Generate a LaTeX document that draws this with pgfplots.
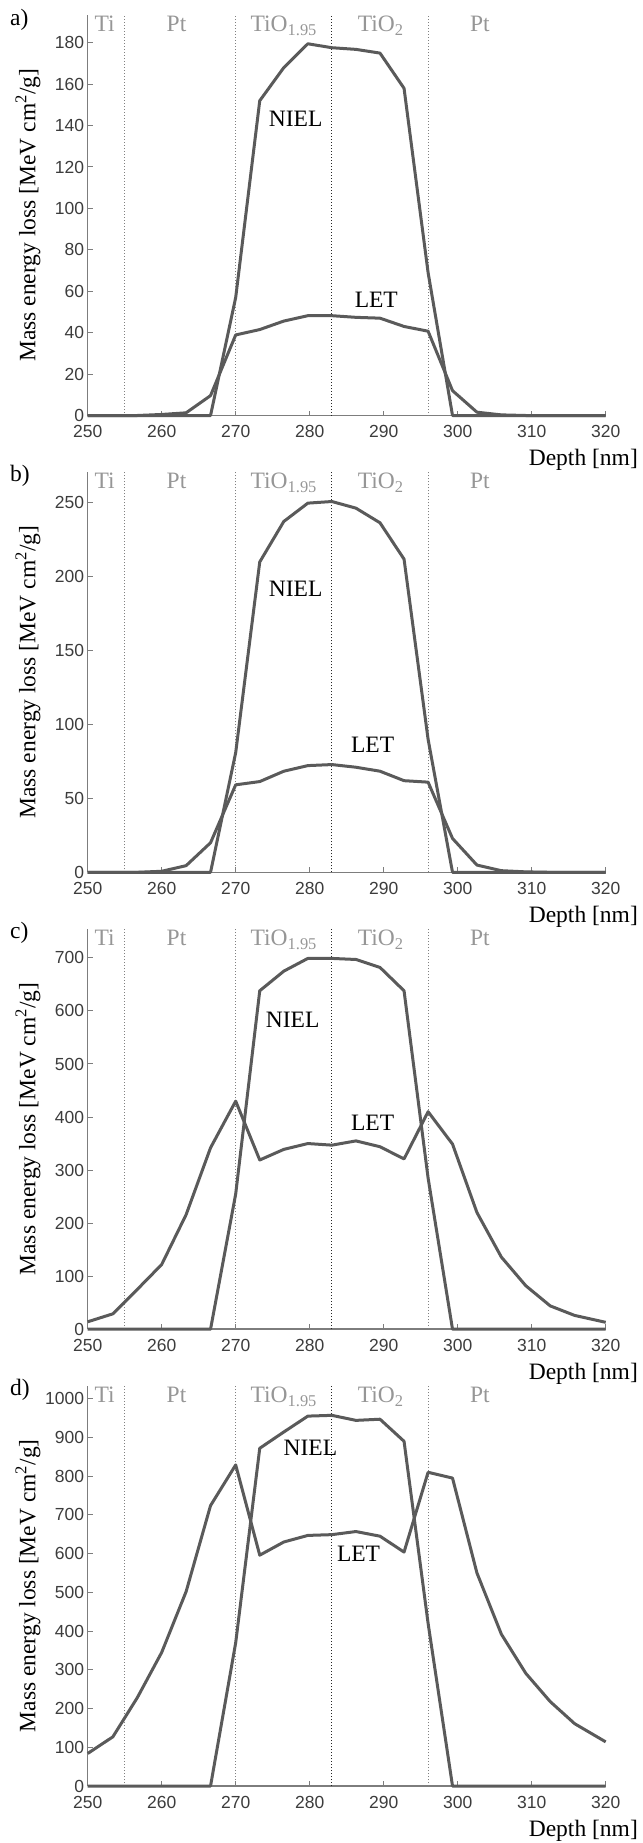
\documentclass[border=0pt]{standalone}
\usepackage{pgfplots}
\pgfplotsset{compat=1.18}
\usepackage{fontspec}
\setmainfont{Liberation Serif}
\newfontfamily\tickfont{Liberation Sans}
\definecolor{dataline}{RGB}{90,90,90}
\definecolor{axisgray}{RGB}{125,125,125}
\definecolor{ticktext}{RGB}{60,60,60}
\definecolor{layergray}{RGB}{150,150,150}
\newcommand{\lbl}{\fontsize{23.5}{28}\selectfont}

\tikzset{
  sepline/.style={line width=1pt, dash pattern=on 0.9pt off 2.1pt},
  layerlbl/.style={anchor=base, inner sep=0pt, text=layergray, font=\lbl},
  curvelbl/.style={anchor=center, inner sep=0pt, font=\lbl},
  curve/.style={draw=dataline, line width=3pt, line join=round, mark=none},
}

\pgfplotsset{
  panel/.style={
    scale only axis, width=518pt, height=400.5pt,
    xmin=250, xmax=320, ymin=0,
    clip=false,
    axis x line*=bottom, axis y line*=left,
    axis line style={draw=axisgray, line width=1.6pt},
    x axis line style={-}, y axis line style={-},
    xtick={250,260,...,320},
    tick align=inside, major tick length=5pt,
    tick style={draw=axisgray, line width=1pt},
    ticklabel style={font=\tickfont\fontsize{17.5}{21}\selectfont, text=ticktext},
    /pgf/number format/assume math mode=true,
    /pgf/number format/1000 sep={},
    xticklabel style={yshift=-6.5pt},
    ylabel={Mass energy loss [MeV cm\textsuperscript{2}/g]},
    ylabel style={at={(axis description cs:-0.1153,0.5)}, anchor=center, inner sep=0pt, font=\lbl},
    xlabel={Depth [nm]},
    xlabel style={at={(axis description cs:1.0624,-0.1248)}, anchor=base east, inner sep=0pt, font=\lbl},
  },
}

\newcommand{\layers}[1]{%
  \draw[sepline, draw=gray] ({axis cs:255,0}|-{rel axis cs:0,0}) -- ({axis cs:255,0}|-{rel axis cs:0,1});
  \draw[sepline, draw=gray] ({axis cs:270,0}|-{rel axis cs:0,0}) -- ({axis cs:270,0}|-{rel axis cs:0,1});
  \draw[sepline, draw=black!85] ({axis cs:283,0}|-{rel axis cs:0,0}) -- ({axis cs:283,0}|-{rel axis cs:0,1});
  \draw[sepline, draw=gray] ({axis cs:296,0}|-{rel axis cs:0,0}) -- ({axis cs:296,0}|-{rel axis cs:0,1});
  \node[layerlbl] at ({axis cs:252.3,0}|-{rel axis cs:0,0.9576}) {Ti};
  \node[layerlbl] at ({axis cs:262.0,0}|-{rel axis cs:0,0.9576}) {Pt};
  \node[layerlbl] at ({axis cs:276.5,0}|-{rel axis cs:0,0.9576}) {TiO\textsubscript{1.95}};
  \node[layerlbl] at ({axis cs:289.6,0}|-{rel axis cs:0,0.9576}) {TiO\textsubscript{2}};
  \node[layerlbl] at ({axis cs:303.0,0}|-{rel axis cs:0,0.9576}) {Pt};
  \node[anchor=base west, inner sep=0pt, font=\lbl] at (axis description cs:-0.15,0.975) {#1};
}

\begin{document}
\begin{tikzpicture}
\path (0pt,0pt) rectangle (642pt,-1843pt);

% ---------------- a) ----------------
\begin{axis}[panel, at={(87.7pt,-415.5pt)}, anchor=south west,
  ymax=193.4, ytick={0,20,...,180}]
\layers{a)}
\addplot[curve] coordinates {(250,0) (266.6,0) (270,57) (273.25,152) (276.5,168) (279.75,179.5) (283,177.6) (286.25,176.8) (289.5,175) (292.75,158) (296,69) (299.3,0) (320,0)};
\addplot[curve] coordinates {(250,0) (256.7,0) (260,0.5) (263.3,1.3) (266.6,9.6) (270,38.9) (273.25,41.5) (276.5,45.6) (279.75,48.2) (283,48.2) (286.25,47.4) (289.5,47) (292.75,43) (296,40.7) (299.3,12) (302.6,1.6) (305.9,0.3) (309.2,0) (320,0)};
\node[curvelbl] at (axis cs:278.1,143.5) {NIEL};
\node[curvelbl] at (axis cs:289.0,55.8) {LET};
\end{axis}

% ---------------- b) ----------------
\begin{axis}[panel, at={(87.7pt,-872.3pt)}, anchor=south west,
  ymax=271, ytick={0,50,...,250}]
\layers{b)}
\addplot[curve] coordinates {(250,0) (266.6,0) (270,81) (273.25,210) (276.5,237.4) (279.75,249.8) (283,250.9) (286.25,246.4) (289.5,236.5) (292.75,211.9) (296,90) (299.3,0) (320,0)};
\addplot[curve] coordinates {(250,0) (256.7,0) (260,0.7) (263.3,4.5) (266.6,20) (270,59.2) (273.25,61.4) (276.5,68.4) (279.75,72.2) (283,72.9) (286.25,71.1) (289.5,68.4) (292.75,62) (296,61) (299.3,22.9) (302.6,4.9) (305.9,1.1) (309.2,0.3) (312.5,0) (320,0)};
\node[curvelbl] at (axis cs:278.1,192) {NIEL};
\node[curvelbl] at (axis cs:288.5,86) {LET};
\end{axis}

% ---------------- c) ----------------
\begin{axis}[panel, at={(87.7pt,-1329.2pt)}, anchor=south west,
  ymax=755, ytick={0,100,...,700}]
\layers{c)}
\addplot[curve] coordinates {(250,0) (266.6,0) (270,255) (273.25,638) (276.5,675) (279.75,699) (283,699) (286.25,697) (289.5,682) (292.75,638) (296,285) (299.3,0) (320,0)};
\addplot[curve] coordinates {(250,14) (253.4,29) (256.7,75) (260,122) (263.3,216) (266.6,342) (270,430) (273.25,319) (276.5,339) (279.75,350) (283,347) (286.25,355) (289.5,344) (292.75,321) (296,410) (299.3,349) (302.6,220) (305.9,136) (309.2,82) (312.5,44) (315.8,26) (320,13)};
\node[curvelbl] at (axis cs:277.7,583) {NIEL};
\node[curvelbl] at (axis cs:288.5,390) {LET};
\end{axis}

% ---------------- d) ----------------
\begin{axis}[panel, at={(87.7pt,-1786pt)}, anchor=south west,
  ymax=1034, ytick={0,100,...,1000}]
\layers{d)}
\addplot[curve] coordinates {(250,0) (266.6,0) (270,370) (273.25,872) (276.5,914) (279.75,955) (283,957) (286.25,944) (289.5,947) (292.75,890) (296,420) (299.3,0) (320,0)};
\addplot[curve] coordinates {(250,84) (253.4,127) (256.7,228) (260,345) (263.3,502) (266.6,724) (270,829) (273.25,596) (276.5,630) (279.75,647) (283,649) (286.25,657) (289.5,645) (292.75,604) (296,810) (299.3,795) (302.6,550) (305.9,392) (309.2,291) (312.5,218) (315.8,161) (320,114)};
\node[curvelbl] at (axis cs:280.1,872) {NIEL};
\node[curvelbl] at (axis cs:286.6,599) {LET};
\end{axis}
\end{tikzpicture}
\end{document}
